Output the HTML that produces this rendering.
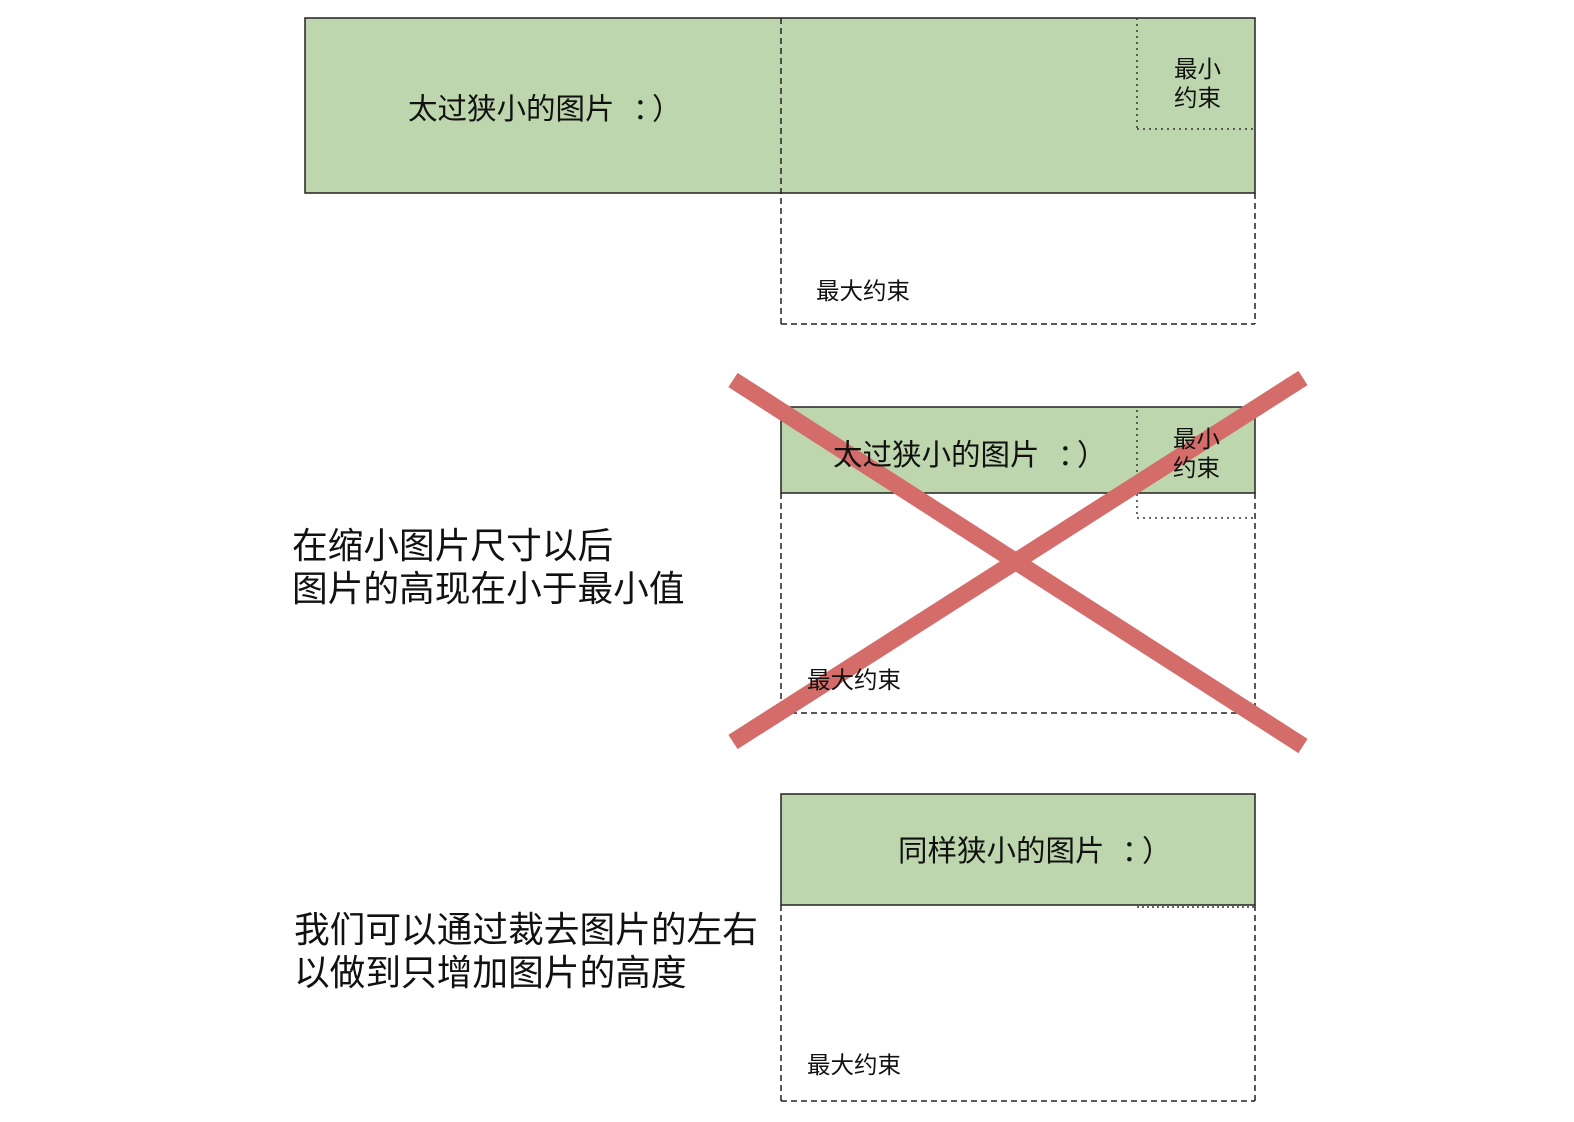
<!DOCTYPE html>
<html><head><meta charset="utf-8"><style>
html,body{margin:0;padding:0;background:#fff;}
svg{display:block;}
text{font-family:"Liberation Sans","Noto Sans CJK SC",sans-serif;fill:#111;}
</style></head><body>
<svg width="1574" height="1122" viewBox="0 0 1574 1122" xmlns="http://www.w3.org/2000/svg">
<!-- Top -->
<rect x="305" y="18" width="950" height="175" fill="#bed6ad" stroke="#222" stroke-width="1.5"/>
<line x1="781" y1="18" x2="781" y2="324" stroke="#222" stroke-width="1.5" stroke-dasharray="6,4"/>
<line x1="1255" y1="193" x2="1255" y2="324" stroke="#222" stroke-width="1.5" stroke-dasharray="6,4"/>
<line x1="781" y1="324" x2="1255" y2="324" stroke="#222" stroke-width="1.5" stroke-dasharray="6,4"/>
<line x1="1137" y1="18" x2="1137" y2="129" stroke="#333" stroke-width="1.5" stroke-dasharray="2,4"/>
<line x1="1137" y1="129" x2="1255" y2="129" stroke="#333" stroke-width="1.5" stroke-dasharray="2,4"/>
<text x="408" y="119" font-size="29.5">太过狭小的图片<tspan x="633">：</tspan><tspan x="652">）</tspan></text>
<text x="1174" y="77" font-size="23.5">最小</text>
<text x="1174" y="106" font-size="23.5">约束</text>
<text x="816" y="299" font-size="23.5">最大约束</text>

<!-- Middle -->
<rect x="781" y="407" width="474" height="86" fill="#bed6ad" stroke="#222" stroke-width="1.5"/>
<line x1="781" y1="493" x2="781" y2="713" stroke="#222" stroke-width="1.5" stroke-dasharray="6,4"/>
<line x1="1255" y1="493" x2="1255" y2="713" stroke="#222" stroke-width="1.5" stroke-dasharray="6,4"/>
<line x1="781" y1="713" x2="1255" y2="713" stroke="#222" stroke-width="1.5" stroke-dasharray="6,4"/>
<line x1="1137" y1="410" x2="1137" y2="518" stroke="#333" stroke-width="1.5" stroke-dasharray="2,4"/>
<line x1="1137" y1="518" x2="1255" y2="518" stroke="#333" stroke-width="1.5" stroke-dasharray="2,4"/>
<line x1="733" y1="380" x2="1303" y2="746" stroke="#d46c6a" stroke-width="17"/>
<line x1="733" y1="742" x2="1303" y2="378" stroke="#d46c6a" stroke-width="17"/>
<text x="833" y="465" font-size="29.5">太过狭小的图片<tspan x="1058">：</tspan><tspan x="1077">）</tspan></text>
<text x="1173" y="447" font-size="23.5">最小</text>
<text x="1173" y="476" font-size="23.5">约束</text>
<text x="807" y="688" font-size="23.5">最大约束</text>
<text x="292" y="558" font-size="35.7">在缩小图片尺寸以后</text>
<text x="292" y="601" font-size="35.7">图片的高现在小于最小值</text>

<!-- Bottom -->
<rect x="781" y="794" width="474" height="111" fill="#bed6ad" stroke="#222" stroke-width="1.5"/>
<line x1="781" y1="905" x2="781" y2="1101" stroke="#222" stroke-width="1.5" stroke-dasharray="6,4"/>
<line x1="1255" y1="905" x2="1255" y2="1101" stroke="#222" stroke-width="1.5" stroke-dasharray="6,4"/>
<line x1="781" y1="1101" x2="1255" y2="1101" stroke="#222" stroke-width="1.5" stroke-dasharray="6,4"/>
<line x1="1137" y1="907" x2="1255" y2="907" stroke="#333" stroke-width="1.5" stroke-dasharray="2,3"/>
<text x="898" y="861" font-size="29.5">同样狭小的图片<tspan x="1122">：</tspan><tspan x="1142">）</tspan></text>
<text x="807" y="1073" font-size="23.5">最大约束</text>
<text x="294" y="942" font-size="35.7">我们可以通过裁去图片的左右</text>
<text x="294" y="985" font-size="35.7">以做到只增加图片的高度</text>
</svg>
</body></html>
